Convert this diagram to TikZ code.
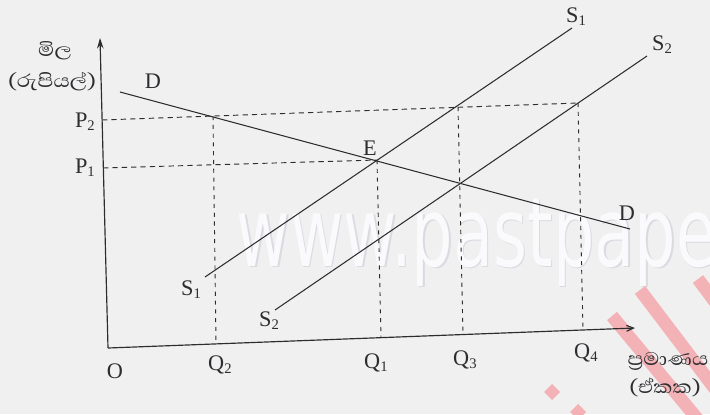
\documentclass[tikz,border=0pt]{standalone}
\usepackage{fontspec}
\setmainfont{Liberation Serif}
\newfontfamily\sinhalafont[Script=Sinhala]{Abhaya Libre}
\newfontfamily\wmfont{DejaVu Sans}
\usetikzlibrary{arrows.meta}
\definecolor{paper}{RGB}{240,240,241}
\definecolor{ink}{RGB}{45,45,48}
\definecolor{stripe}{RGB}{243,178,182}
\definecolor{wmshade}{RGB}{218,218,224}
\definecolor{wmfill}{RGB}{250,250,252}
\newcommand\lbl[2]{#1\raisebox{-3pt}{\fontsize{12.5}{13}\selectfont #2}}
\begin{document}
\begin{tikzpicture}[x=0.03cm,y=-0.03cm,
  curve/.style={ink, line width=0.9pt},
  guide/.style={ink, line width=0.8pt, dash pattern=on 4.5pt off 3.5pt},
  vguide/.style={ink, line width=0.8pt, dash pattern=on 3.5pt off 4pt},
  axis/.style={ink, line width=1pt},
  lab/.style={inner sep=0pt, font=\fontsize{19}{20}\selectfont, text=ink},
  sin/.style={inner sep=0pt, font=\sinhalafont\fontsize{20}{22}\selectfont, text=ink},
  band/.style={stripe, line width=11pt}]
\fill[paper] (0,0) rectangle (710,414);
\useasboundingbox (0,0) rectangle (710,414);
\begin{scope}
\clip (0,0) rectangle (710,414);
% watermark
\node[inner sep=0pt, anchor=base west, font=\wmfont\fontsize{82}{82}\selectfont, text=wmshade] (wms) at (238,267.5) {\scalebox{0.68}[1]{www.pastpape}};
\node[inner sep=0pt, anchor=base west, font=\wmfont\fontsize{82}{82}\selectfont, text=wmfill] (wm) at (236.5,266) {\scalebox{0.68}[1]{www.pastpape}};
% red stripes
\draw[band] (640,290) -- (725,402);
\draw[band] (612,316) -- (700,422);
\draw[band] (698,279) -- (730,322);
\fill[stripe] (552,384) -- (560,392) -- (552,400) -- (544,392) -- cycle;
\fill[stripe] (578,404) -- (586,412) -- (578,420) -- (570,412) -- cycle;
\end{scope}
% points
\coordinate (O) at (108,348);
\coordinate (Ytop) at (100,38);
\coordinate (Xend) at (635,328);
\coordinate (Dl) at (120,92);
\coordinate (Dr) at (630,229);
\coordinate (S1a) at (205,277);
\coordinate (S1b) at (572,28);
\coordinate (S2a) at (275,310);
\coordinate (S2b) at (647,56);
\coordinate (E) at (377,160);
\coordinate (A2) at (213,116);
\coordinate (B2) at (458,107);
\coordinate (C2) at (578,103);
\coordinate (P2) at (102,120);
\coordinate (P1) at (103,168);
\coordinate (Q2) at (216,344);
\coordinate (Q1) at (381,337.6);
\coordinate (Q3) at (463,334.5);
\coordinate (Q4) at (583,330);
% guides
\draw[guide] (P2) -- (C2);
\draw[guide] (P1) -- (E);
\draw[vguide] (A2) -- (Q2);
\draw[vguide] (E) -- (Q1);
\draw[vguide] (B2) -- (Q3);
\draw[vguide] (C2) -- (Q4);
% curves
\draw[curve] (Dl) -- (Dr);
\draw[curve] (S1a) -- (S1b);
\draw[curve] (S2a) -- (S2b);
% axes
\draw[axis,-{Stealth[length=9pt,width=5.5pt]}] (O) -- (Ytop);
\draw[axis,-{Straight Barb[length=6pt,width=5pt]}] (O) -- (Xend);
% labels
\node[sin] (ylab1) at (55,51) {\scalebox{1.15}[1]{මිල}};
\node[sin] (ylab2) at (52,82) {\scalebox{1.15}[1]{(රුපියල්)}};
\node[lab, anchor=base east] (lP2) at (95,127) {\lbl{P}{2}};
\node[lab, anchor=base east] (lP1) at (95,173) {\lbl{P}{1}};
\node[lab, anchor=base] (lD1) at (153,88) {D};
\node[lab, anchor=base] (lE) at (370,155) {E};
\node[lab, anchor=base] (lD2) at (627,220) {D};
\node[lab, anchor=base west] (lS1t) at (566,22) {\lbl{S}{1}};
\node[lab, anchor=base west] (lS2t) at (652,50) {\lbl{S}{2}};
\node[lab, anchor=base west] (lS1b) at (181,295) {\lbl{S}{1}};
\node[lab, anchor=base west] (lS2b) at (259,326) {\lbl{S}{2}};
\node[lab] (lO) at (115,371) {O};
\node[lab, anchor=base west] (lQ2) at (208,370) {\lbl{Q}{2}};
\node[lab, anchor=base west] (lQ1) at (364,368) {\lbl{Q}{1}};
\node[lab, anchor=base west] (lQ3) at (453,365) {\lbl{Q}{3}};
\node[lab, anchor=base west] (lQ4) at (574,358) {\lbl{Q}{4}};
\node[sin] (xlab1) at (668,361) {\scalebox{1.15}[1]{ප්^^^^200dරමාණය}};
\node[sin] (xlab2) at (665,387) {\scalebox{1.15}[1]{(ඒකක)}};
\end{tikzpicture}
\end{document}
